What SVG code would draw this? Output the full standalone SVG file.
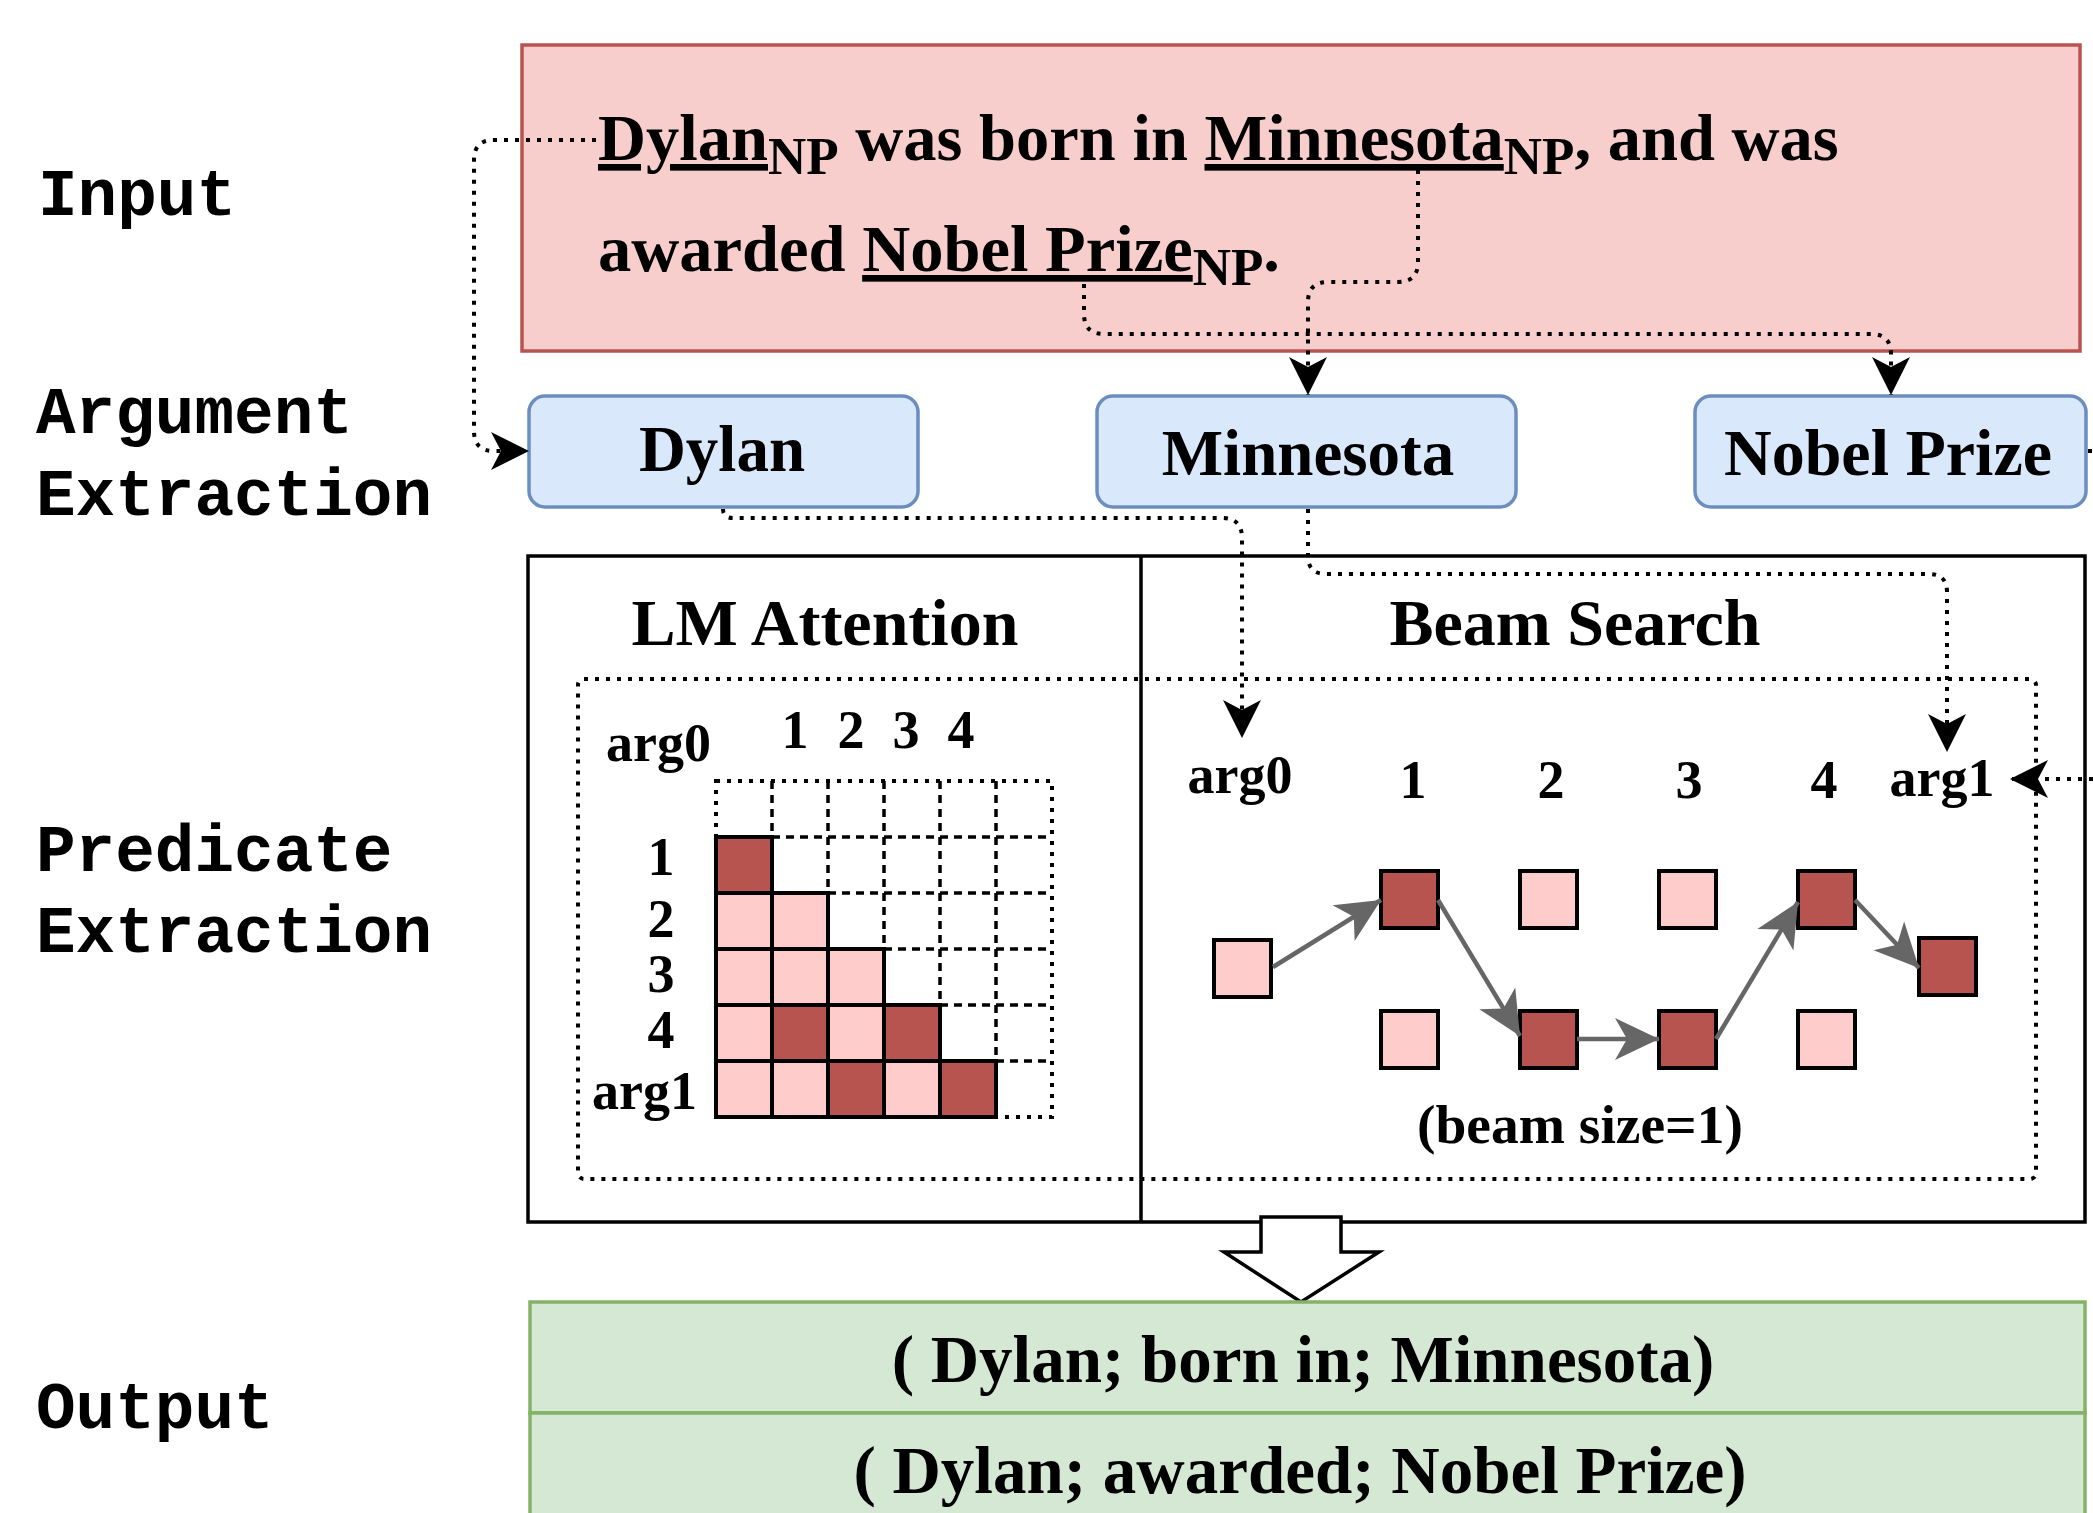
<svg xmlns="http://www.w3.org/2000/svg" width="2093" height="1513" viewBox="0 0 2093 1513">
<style>
.lab{font-family:"Liberation Mono","Courier New",monospace;font-weight:bold;font-size:66px;fill:#000}
.t{font-family:"Liberation Serif","Times New Roman",serif;font-weight:bold;fill:#000}
.dot{fill:none;stroke:#000;stroke-width:4;stroke-dasharray:4 7}
.dash{fill:none;stroke:#000;stroke-width:3.5;stroke-dasharray:8 6}
.cell{stroke:#000;stroke-width:4}
.dk{fill:#b85450}
.lt{fill:#ffcccc}
.garr{fill:none;stroke:#666;stroke-width:4.5}
</style>
<defs>
<marker id="blk" markerUnits="userSpaceOnUse" markerWidth="40" markerHeight="38" refX="38" refY="19" orient="auto" overflow="visible">
<path d="M0,0 L38,19 L0,38 L10,19 z" fill="#000"/>
</marker>
<marker id="gry" markerUnits="userSpaceOnUse" markerWidth="46" markerHeight="42" refX="44" refY="21" orient="auto" overflow="visible">
<path d="M0,0 L44,21 L0,42 L12,21 z" fill="#666"/>
</marker>
</defs>
<rect width="2093" height="1513" fill="#fff"/>

<g id="labels">
<text class="lab" x="38" y="215">Input</text>
<text class="lab" x="36" y="433">Argument</text>
<text class="lab" x="36" y="515">Extraction</text>
<text class="lab" x="36" y="871">Predicate</text>
<text class="lab" x="36" y="952">Extraction</text>
<text class="lab" x="36" y="1428">Output</text>
</g>

<g id="input">
<rect x="522" y="45" width="1558" height="306" fill="#f8cecc" stroke="#b85450" stroke-width="3.5"/>
<text class="t" x="598" y="160" font-size="66.5"><tspan text-decoration="underline">Dylan</tspan><tspan font-size="53" dy="14">NP</tspan><tspan dy="-14"> was born in </tspan><tspan text-decoration="underline">Minnesota</tspan><tspan font-size="53" dy="14">NP</tspan><tspan dy="-14">, and was</tspan></text>
<text class="t" x="598" y="271" font-size="66.5">awarded <tspan text-decoration="underline">Nobel Prize</tspan><tspan font-size="53" dy="14">NP</tspan><tspan dy="-14">.</tspan></text>
</g>

<g id="node-dylan">
<rect x="529" y="396" width="389" height="111" rx="16" fill="#dae8fc" stroke="#6c8ebf" stroke-width="3.5"/>
<text class="t" x="722" y="471" font-size="65" text-anchor="middle">Dylan</text>
</g>
<g id="node-minnesota">
<rect x="1097" y="396" width="419" height="111" rx="16" fill="#dae8fc" stroke="#6c8ebf" stroke-width="3.5"/>
<text class="t" x="1308" y="475" font-size="65" text-anchor="middle">Minnesota</text>
</g>
<g id="node-nobel">
<rect x="1695" y="396" width="391" height="111" rx="16" fill="#dae8fc" stroke="#6c8ebf" stroke-width="3.5"/>
<text class="t" x="1888" y="475" font-size="66" text-anchor="middle">Nobel Prize</text>
</g>

<g id="predicate">
<rect x="528" y="556" width="1557" height="666" fill="#fff" stroke="#000" stroke-width="3.5"/>
<line x1="1141" y1="556" x2="1141" y2="1222" stroke="#000" stroke-width="3.5"/>
<text class="t" x="825" y="645" font-size="66" text-anchor="middle">LM Attention</text>
<text class="t" x="1575" y="645" font-size="66" text-anchor="middle">Beam Search</text>
<rect x="578" y="679" width="1458" height="500" rx="6" class="dot"/>
</g>

<g id="lm-attention">
<text class="t" x="606" y="761" font-size="54">arg0</text>
<text class="t" font-size="54" text-anchor="middle" y="748"><tspan x="795">1</tspan><tspan x="851">2</tspan><tspan x="906">3</tspan><tspan x="961">4</tspan></text>
<text class="t" x="661" y="875" font-size="54" text-anchor="middle">1</text>
<text class="t" x="661" y="937" font-size="54" text-anchor="middle">2</text>
<text class="t" x="661" y="992" font-size="54" text-anchor="middle">3</text>
<text class="t" x="661" y="1048" font-size="54" text-anchor="middle">4</text>
<text class="t" x="592" y="1109" font-size="54">arg1</text>
<g class="dash">
<path d="M772,781V1117M828,781V1117M884,781V1117M940,781V1117M996,781V1117M716,837H1052M716,893H1052M716,949H1052M716,1005H1052M716,1061H1052"/>
</g>
<rect x="716" y="781" width="336" height="336" class="dot"/>
<g class="cell">
<rect class="dk" x="716" y="837" width="56" height="56"/>
<rect class="lt" x="716" y="893" width="56" height="56"/>
<rect class="lt" x="772" y="893" width="56" height="56"/>
<rect class="lt" x="716" y="949" width="56" height="56"/>
<rect class="lt" x="772" y="949" width="56" height="56"/>
<rect class="lt" x="828" y="949" width="56" height="56"/>
<rect class="lt" x="716" y="1005" width="56" height="56"/>
<rect class="dk" x="772" y="1005" width="56" height="56"/>
<rect class="lt" x="828" y="1005" width="56" height="56"/>
<rect class="dk" x="884" y="1005" width="56" height="56"/>
<rect class="lt" x="716" y="1061" width="56" height="56"/>
<rect class="lt" x="772" y="1061" width="56" height="56"/>
<rect class="dk" x="828" y="1061" width="56" height="56"/>
<rect class="lt" x="884" y="1061" width="56" height="56"/>
<rect class="dk" x="940" y="1061" width="56" height="56"/>
</g>
</g>

<g id="beam-search">
<text class="t" font-size="54" text-anchor="middle"><tspan x="1240" y="793">arg0</tspan><tspan x="1413" y="798">1</tspan><tspan x="1551" y="798">2</tspan><tspan x="1689" y="798">3</tspan><tspan x="1824" y="798">4</tspan><tspan x="1942" y="796">arg1</tspan></text>
<g class="cell">
<rect class="lt" x="1214" y="940" width="57" height="57"/>
<rect class="dk" x="1381" y="871" width="57" height="57"/>
<rect class="lt" x="1381" y="1011" width="57" height="57"/>
<rect class="lt" x="1520" y="871" width="57" height="57"/>
<rect class="dk" x="1520" y="1011" width="57" height="57"/>
<rect class="lt" x="1659" y="871" width="57" height="57"/>
<rect class="dk" x="1659" y="1011" width="57" height="57"/>
<rect class="dk" x="1798" y="871" width="57" height="57"/>
<rect class="lt" x="1798" y="1011" width="57" height="57"/>
<rect class="dk" x="1919" y="938" width="57" height="57"/>
</g>
<text class="t" x="1580" y="1143" font-size="55.5" text-anchor="middle">(beam size=1)</text>
</g>

<g id="connectors">
<line class="garr" x1="1273" y1="967" x2="1381" y2="900" marker-end="url(#gry)"/>
<line class="garr" x1="1438" y1="900" x2="1520" y2="1036" marker-end="url(#gry)"/>
<line class="garr" x1="1577" y1="1039" x2="1659" y2="1039" marker-end="url(#gry)"/>
<line class="garr" x1="1716" y1="1039" x2="1798" y2="902" marker-end="url(#gry)"/>
<line class="garr" x1="1855" y1="900" x2="1919" y2="968" marker-end="url(#gry)"/>
<path class="dot" d="M596,140 L494,140 Q474,140 474,160 L474,431 Q474,451 494,451 L529,451" marker-end="url(#blk)"/>
<path class="dot" d="M1418,170 L1418,262 Q1418,282 1398,282 L1328,282 Q1308,282 1308,302 L1308,395" marker-end="url(#blk)"/>
<path class="dot" d="M1084,284 L1084,314 Q1084,334 1104,334 L1871,334 Q1891,334 1891,354 L1891,395" marker-end="url(#blk)"/>
<path class="dot" d="M723,509 Q723,518 733,518 L1222,518 Q1242,518 1242,538 L1242,738" marker-end="url(#blk)"/>
<path class="dot" d="M1308,509 L1308,556 Q1308,574 1326,574 L1929,574 Q1947,574 1947,592 L1947,752" marker-end="url(#blk)"/>
<path class="dot" d="M2088,451 L2130,451 L2130,779 L2010,779" marker-end="url(#blk)"/>
<polygon points="1261,1217 1341,1217 1341,1252 1379,1252 1301,1302 1224,1252 1261,1252" fill="#fff" stroke="#000" stroke-width="3.5"/>
</g>

<g id="output">
<rect x="530" y="1302" width="1555" height="111" fill="#d5e8d4" stroke="#82b366" stroke-width="3.5"/>
<rect x="530" y="1413" width="1555" height="130" fill="#d5e8d4" stroke="#82b366" stroke-width="3.5"/>
<text class="t" x="1303" y="1382" font-size="67" text-anchor="middle">( Dylan; born in; Minnesota)</text>
<text class="t" x="1300" y="1493" font-size="67" text-anchor="middle">( Dylan; awarded; Nobel Prize)</text>
</g>
</svg>
